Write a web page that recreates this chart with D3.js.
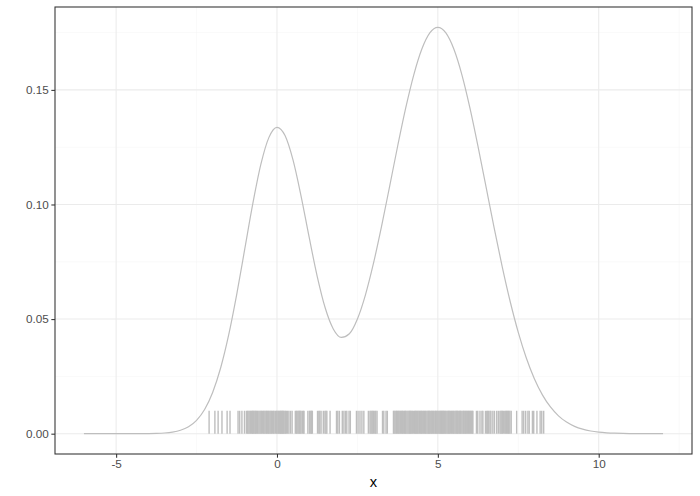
<!DOCTYPE html>
<html>
<head>
<meta charset="utf-8">
<script src="https://cdn.jsdelivr.net/npm/d3@7"></script>
<style>
  html, body { margin: 0; padding: 0; background: #fff; }
  svg { display: block; }
  text { font-family: "Liberation Sans", Arial, Helvetica, sans-serif; }
</style>
</head>
<body>
<svg id="chart" width="700" height="496"></svg>
<script>
// density curve, x positions
const curveX = d3.range(73).map(i => -6 + i * 0.25);
// density values
const curveY = [
  0, 0, 0, 0, 0, 0.0000017, 0.0000053, 0.000016, 0.0000446, 0.000118, 0.000291, 0.000676,
  0.00148, 0.00303, 0.00584, 0.01058, 0.01800, 0.02876, 0.04318, 0.06091, 0.08072, 0.10049,
  0.11757, 0.12928, 0.13367, 0.13007, 0.11933, 0.10358, 0.08572, 0.06867, 0.05482, 0.04571,
  0.04200, 0.04361, 0.05005, 0.06059, 0.07437, 0.09045, 0.10783, 0.12541, 0.14201, 0.15647,
  0.16772, 0.17486, 0.17730, 0.17486, 0.16772, 0.15647, 0.14197, 0.12529, 0.10754, 0.08977,
  0.07289, 0.05756, 0.04421, 0.03303, 0.02400, 0.01695, 0.01165, 0.00779, 0.00506, 0.00320,
  0.00197, 0.00118, 0.00069, 0.00039, 0.00021, 0.00011, 0.00006, 0.00003, 0.00001, 0, 0
];
// sample positions (rug segments)
const rugX = [
  -2.11, -1.93, -1.83, -1.71, -1.55, -1.46, -1.21, -1.16, -1.09, -1.01,
  -0.95, -0.92, -0.90, -0.87, -0.84, -0.82, -0.79, -0.77, -0.75, -0.73, -0.71, -0.68, -0.66,
  -0.64, -0.61, -0.59, -0.56, -0.53, -0.50, -0.48, -0.45, -0.42, -0.40, -0.37, -0.34, -0.32,
  -0.30, -0.27, -0.25, -0.22, -0.19, -0.17, -0.14, -0.11, -0.09, -0.05, -0.02,
  0.00, 0.03, 0.05, 0.08, 0.10, 0.12, 0.14, 0.16, 0.18, 0.20, 0.22, 0.25, 0.27, 0.30, 0.33,
  0.37, 0.42, 0.47, 0.57, 0.60, 0.62, 0.65, 0.68, 0.70, 0.72,
  0.75, 0.79, 0.82, 0.84, 0.96, 1.01, 1.03, 1.06, 1.08, 1.10, 1.26, 1.30, 1.33, 1.37, 1.44,
  1.49, 1.52, 1.55, 1.65,
  1.85, 1.89, 1.94, 2.03, 2.08, 2.13, 2.17, 2.24, 2.28, 2.47, 2.52, 2.58, 2.64, 2.70,
  2.84, 2.89, 2.92, 2.95, 2.98, 3.00, 3.04, 3.07, 3.11, 3.28, 3.32, 3.39, 3.43,
  3.62, 3.64, 3.67, 3.70, 3.72, 3.74, 3.77, 3.79, 3.82, 3.84, 3.87, 3.89, 3.91, 3.94, 3.97,
  3.99, 4.01, 4.04, 4.07, 4.10, 4.12, 4.14, 4.16, 4.19, 4.21, 4.24, 4.27, 4.29,
  4.31, 4.33, 4.36, 4.38, 4.41, 4.43, 4.46, 4.48, 4.50, 4.53, 4.56, 4.58, 4.61, 4.63, 4.66,
  4.69, 4.71, 4.73, 4.75, 4.78, 4.81, 4.83, 4.86, 4.88, 4.91, 4.93, 4.95, 4.98,
  5.00, 5.03, 5.06, 5.08, 5.10, 5.12, 5.14, 5.16, 5.18, 5.20, 5.23, 5.25, 5.28, 5.31, 5.33,
  5.35, 5.37, 5.40, 5.43, 5.45, 5.48, 5.50, 5.53, 5.56, 5.58,
  5.60, 5.62, 5.65, 5.68, 5.70, 5.72, 5.75, 5.78, 5.80, 5.82, 5.85, 5.87, 5.90, 5.92, 5.95,
  5.97, 5.99, 6.02, 6.04, 6.07, 6.09,
  6.20, 6.24, 6.31, 6.37, 6.40, 6.48, 6.52, 6.55, 6.58, 6.62, 6.65, 6.71, 6.76, 6.83, 6.88,
  6.93, 6.96, 6.99, 7.01, 7.04, 7.08, 7.11, 7.14, 7.16, 7.19, 7.21, 7.24, 7.28, 7.45, 7.62,
  7.67, 7.73, 7.80, 7.84, 7.94, 7.98, 8.08, 8.18, 8.23, 8.29
];
const rugHeight = 0.01;
const xTicks = [-5, 0, 5, 10];
const xMinor = [-7.5, -2.5, 2.5, 7.5, 12.5];
const yTicks = [0, 0.05, 0.10, 0.15];
const yMinor = [0.025, 0.075, 0.125, 0.175];
const xTitle = "x";

const svg = d3.select("#chart");
const panel = { left: 55, right: 692, top: 7, bottom: 454 };

function expand(ext) {
  const r = ext[1] - ext[0];
  return [ext[0] - 0.05 * r, ext[1] + 0.05 * r];
}
const xExt = d3.extent(curveX.concat(rugX));
const yExt = [Math.min(0, d3.min(curveY)), Math.max(d3.max(curveY), rugHeight)];
const x = d3.scaleLinear().domain(expand(xExt)).range([panel.left, panel.right]);
const y = d3.scaleLinear().domain(expand(yExt)).range([panel.bottom, panel.top]);

const W = panel.right - panel.left, H = panel.bottom - panel.top;
const g = svg.append("g");

g.append("rect").attr("x", panel.left).attr("y", panel.top).attr("width", W).attr("height", H).attr("fill", "#fff");

// minor grid
g.selectAll(".xminor").data(xMinor.filter(v => x(v) > panel.left && x(v) < panel.right)).join("line")
  .attr("x1", d => x(d)).attr("x2", d => x(d)).attr("y1", panel.top).attr("y2", panel.bottom)
  .attr("stroke", "#f3f3f3").attr("stroke-width", 0.53);
g.selectAll(".yminor").data(yMinor.filter(v => y(v) > panel.top && y(v) < panel.bottom)).join("line")
  .attr("y1", d => y(d)).attr("y2", d => y(d)).attr("x1", panel.left).attr("x2", panel.right)
  .attr("stroke", "#f3f3f3").attr("stroke-width", 0.53);
// major grid
g.selectAll(".xmajor").data(xTicks).join("line")
  .attr("x1", d => x(d)).attr("x2", d => x(d)).attr("y1", panel.top).attr("y2", panel.bottom)
  .attr("stroke", "#ebebeb").attr("stroke-width", 1.07);
g.selectAll(".ymajor").data(yTicks).join("line")
  .attr("y1", d => y(d)).attr("y2", d => y(d)).attr("x1", panel.left).attr("x2", panel.right)
  .attr("stroke", "#ebebeb").attr("stroke-width", 1.07);

// curve
const line = d3.line().x(d => x(d[0])).y(d => y(d[1])).curve(d3.curveMonotoneX);
g.append("path").datum(curveX.map((v, i) => [v, curveY[i]]))
  .attr("d", line).attr("fill", "none").attr("stroke", "#bebebe").attr("stroke-width", 1.2);

// rug segments
g.selectAll(".rug").data(rugX).join("line")
  .attr("x1", d => x(d)).attr("x2", d => x(d)).attr("y1", y(0)).attr("y2", y(rugHeight))
  .attr("stroke", "#bebebe").attr("stroke-width", 1.4);

// panel border
g.append("rect").attr("x", panel.left).attr("y", panel.top).attr("width", W).attr("height", H)
  .attr("fill", "none").attr("stroke", "#333333").attr("stroke-width", 1.07);

// axes
const xAxis = d3.axisBottom(x).tickValues(xTicks).tickSize(3.66).tickPadding(2.5).tickFormat(d => String(d));
const xa = svg.append("g").attr("transform", `translate(0,${panel.bottom})`).call(xAxis);
xa.select(".domain").remove();
xa.selectAll(".tick line").attr("stroke", "#333333").attr("stroke-width", 1.07);
xa.selectAll(".tick text").attr("fill", "#4d4d4d").style("font-size", "11.7px")
  .style("font-family", "'Liberation Sans', Arial, sans-serif");

const yAxis = d3.axisLeft(y).tickValues(yTicks).tickSize(3.66).tickPadding(2.5).tickFormat(d => d.toFixed(2));
const ya = svg.append("g").attr("transform", `translate(${panel.left},0)`).call(yAxis);
ya.select(".domain").remove();
ya.selectAll(".tick line").attr("stroke", "#333333").attr("stroke-width", 1.07);
ya.selectAll(".tick text").attr("fill", "#4d4d4d").style("font-size", "11.7px")
  .style("font-family", "'Liberation Sans', Arial, sans-serif");

svg.append("text").attr("x", (panel.left + panel.right) / 2).attr("y", 487)
  .attr("text-anchor", "middle").attr("fill", "#000").style("font-size", "14.67px").text(xTitle);
</script>
</body>
</html>
